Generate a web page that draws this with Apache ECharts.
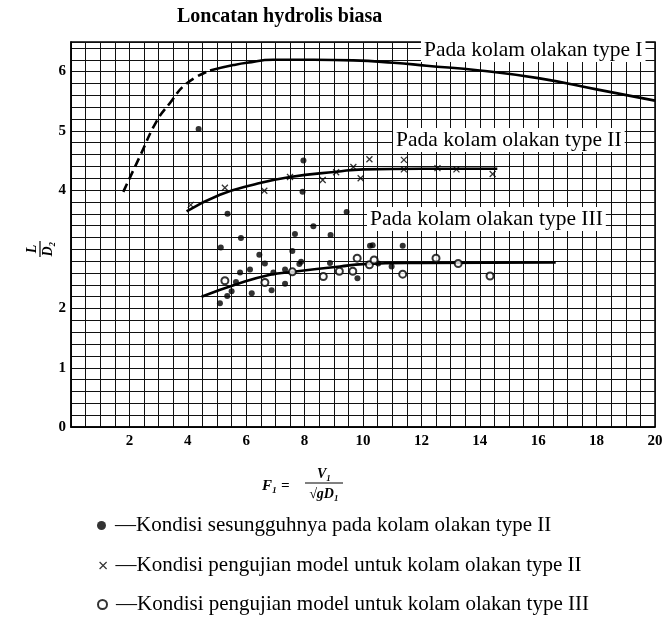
<!DOCTYPE html>
<html>
<head>
<meta charset="utf-8">
<script src="https://cdn.jsdelivr.net/npm/echarts@6/dist/echarts.min.js"></script>
<style>html,body{margin:0;padding:0;background:#fff}#c{width:666px;height:617px}</style>
</head>
<body>
<div id="c"></div>
<script>
// ---- data ----
const typeIDashed = [[1.79,3.97],[2.36,4.57],[2.93,5.16],[3.39,5.47],[3.96,5.8],[4.76,6.02]];
const typeISolid = [[4.76,6.02],[5.56,6.11],[6.02,6.15],[6.93,6.2],[8.3,6.2],[9.67,6.19],[11.04,6.15],[12.18,6.1],[14.0,6.02],[16.0,5.89],[18.0,5.7],[20.0,5.51]];
const typeIICurve = [[3.96,3.64],[5.1,3.92],[6.24,4.09],[7.5,4.22],[9.1,4.31],[10.0,4.35],[12.0,4.36],[14.6,4.36]];
const typeIIICurve = [[4.47,2.2],[5.67,2.41],[6.82,2.57],[7.61,2.62],[9.21,2.71],[10.0,2.75],[12.0,2.77],[16.6,2.78]];
const prototypeII = [[4.37,5.03],[7.96,4.5],[7.93,3.97],[5.36,3.6],[9.44,3.63],[8.3,3.39],[5.82,3.19],[7.67,3.26],[8.89,3.24],[5.13,3.03],[7.58,2.97],[10.24,3.06],[10.33,3.07],[11.36,3.06],[6.45,2.91],[6.64,2.76],[7.82,2.75],[7.88,2.79],[8.87,2.77],[10.52,2.76],[10.98,2.71],[6.13,2.66],[5.79,2.61],[7.33,2.66],[6.93,2.61],[5.65,2.45],[7.33,2.42],[9.81,2.51],[6.87,2.31],[6.19,2.26],[5.5,2.29],[5.35,2.21],[5.1,2.09]];
const modelII = [[4.1,3.75],[5.27,4.04],[6.62,3.99],[7.5,4.22],[8.62,4.17],[9.08,4.3],[9.67,4.39],[9.92,4.2],[10.22,4.52],[11.4,4.51],[11.4,4.35],[12.55,4.37],[13.2,4.35],[14.44,4.27]];
const modelIII = [[5.27,2.47],[6.64,2.44],[7.58,2.62],[8.64,2.54],[9.19,2.63],[9.65,2.63],[9.8,2.85],[10.22,2.74],[10.38,2.82],[11.36,2.58],[12.5,2.85],[13.26,2.76],[14.35,2.55]];
const xLabels = [2,4,6,8,10,12,14,16,18,20];
const yLabels = [0,1,2,4,5,6];
const seriesNames = [
  '—Kondisi sesungguhnya pada kolam olakan type II',
  '—Kondisi pengujian model untuk kolam olakan type II',
  '—Kondisi pengujian model untuk kolam olakan type III'
];
const curveLabels = ['Pada kolam olakan type I','Pada kolam olakan type II','Pada kolam olakan type III'];
const chartTitle = 'Loncatan hydrolis biasa';

// ---- chart ----
const SERIF = '"Liberation Serif","DejaVu Serif",serif';
const crossPath = 'path://M0,0L10,10M10,0L0,10';
const gridLine = {show:true, lineStyle:{color:'#111', width:1}};
const isNear = (v, arr) => arr.some(a => Math.abs(a - v) < 1e-6);
const chart = echarts.init(document.getElementById('c'));
const lineBase = {type:'line', smooth:true, showSymbol:false, symbol:'none', silent:true, z:3};
const labelStyle = {fontFamily:SERIF, fontSize:21.5, fontWeight:'normal', color:'#000'};
const legendText = {fontFamily:SERIF, fontSize:21, color:'#000', padding:[0,0,0,4]};
const legendBase = {orient:'horizontal', left:92, itemWidth:9, itemHeight:9, selectedMode:false, textStyle:legendText};
chart.setOption({
  animation:false,
  backgroundColor:'#fff',
  title:[
    {text:chartTitle, left:172, top:2, textStyle:{fontFamily:SERIF, fontSize:20, fontWeight:'bold', color:'#000'}},
    {text:curveLabels[0], left:421, top:38, backgroundColor:'#fff', padding:[1,3], textStyle:labelStyle, z:10},
    {text:curveLabels[1], left:393, top:128, backgroundColor:'#fff', padding:[1,3], textStyle:labelStyle, z:10},
    {text:curveLabels[2], left:367, top:207, backgroundColor:'#fff', padding:[1,3], textStyle:labelStyle, z:10}
  ],
  grid:{left:71, right:11, top:42, bottom:190, show:true, borderColor:'#000', borderWidth:1.5, backgroundColor:'transparent'},
  xAxis:{type:'value', min:0, max:20, interval:0.5,
    axisLine:{show:true, lineStyle:{color:'#000', width:1.5}}, axisTick:{show:false},
    splitLine:gridLine,
    axisLabel:{margin:7, fontFamily:SERIF, fontSize:15, fontWeight:'bold', color:'#000',
      formatter:v => isNear(v, xLabels) ? String(Math.round(v)) : ''}},
  yAxis:{type:'value', min:0, max:6.5, interval:0.2,
    axisLine:{show:true, lineStyle:{color:'#000', width:1.5}}, axisTick:{show:false},
    splitLine:gridLine,
    axisLabel:{margin:5, fontFamily:SERIF, fontSize:15, fontWeight:'bold', color:'#000',
      formatter:v => isNear(v, yLabels) ? String(Math.round(v)) : ''}},
  legend:[
    Object.assign({}, legendBase, {top:510, data:[{name:seriesNames[0], icon:'circle'}]}),
    Object.assign({}, legendBase, {top:550, left:94, itemWidth:7, itemHeight:7, data:[{name:seriesNames[1], icon:crossPath, itemStyle:{color:'#000', borderColor:'#000', borderWidth:1.2}}]}),
    Object.assign({}, legendBase, {top:589, data:[{name:seriesNames[2], icon:'emptyCircle', itemStyle:{color:'#000', borderColor:'#000', borderWidth:1.2}}]})
  ],
  graphic:[
    {type:'group', x:40, y:249, rotation:Math.PI/2, children:[
      {type:'text', x:0, y:-8, style:{text:'L', font:'italic bold 14px '+SERIF, fill:'#000', align:'center', verticalAlign:'middle'}},
      {type:'line', shape:{x1:-8, y1:0, x2:8, y2:0}, style:{stroke:'#000', lineWidth:1.2}},
      {type:'text', x:0, y:8, style:{text:'D₂', font:'italic bold 14px '+SERIF, fill:'#000', align:'center', verticalAlign:'middle'}}
    ]},
    {type:'group', x:0, y:0, children:[
      {type:'text', x:262, y:486, style:{text:'F₁ =', font:'italic bold 15px '+SERIF, fill:'#000', verticalAlign:'middle'}},
      {type:'text', x:324, y:474, style:{text:'V₁', font:'italic bold 14px '+SERIF, fill:'#000', align:'center', verticalAlign:'middle'}},
      {type:'line', shape:{x1:305, y1:483, x2:343, y2:483}, style:{stroke:'#000', lineWidth:1}},
      {type:'text', x:324, y:494, style:{text:'√gD₁', font:'italic bold 14px '+SERIF, fill:'#000', align:'center', verticalAlign:'middle'}}
    ]}
  ],
  series:[
    Object.assign({}, lineBase, {name:'typeI-dashed', data:typeIDashed, lineStyle:{color:'#000', width:2.6, type:[9,5]}}),
    Object.assign({}, lineBase, {name:'typeI', data:typeISolid, lineStyle:{color:'#000', width:2.6}}),
    Object.assign({}, lineBase, {name:'typeII', data:typeIICurve, lineStyle:{color:'#000', width:2.6}}),
    Object.assign({}, lineBase, {name:'typeIII', data:typeIIICurve, lineStyle:{color:'#000', width:2.6}}),
    {type:'scatter', name:seriesNames[0], data:prototypeII, symbol:'circle', symbolSize:6, itemStyle:{color:'#000'}, z:4},
    {type:'scatter', name:seriesNames[1], data:modelII, symbol:crossPath, symbolSize:6, itemStyle:{color:'#000', borderColor:'#000', borderWidth:1.3}, z:4},
    {type:'scatter', name:seriesNames[2], data:modelIII, symbol:'emptyCircle', symbolSize:7, itemStyle:{color:'#000', borderColor:'#000', borderWidth:1.5}, z:5}
  ]
});
</script>
</body>
</html>
